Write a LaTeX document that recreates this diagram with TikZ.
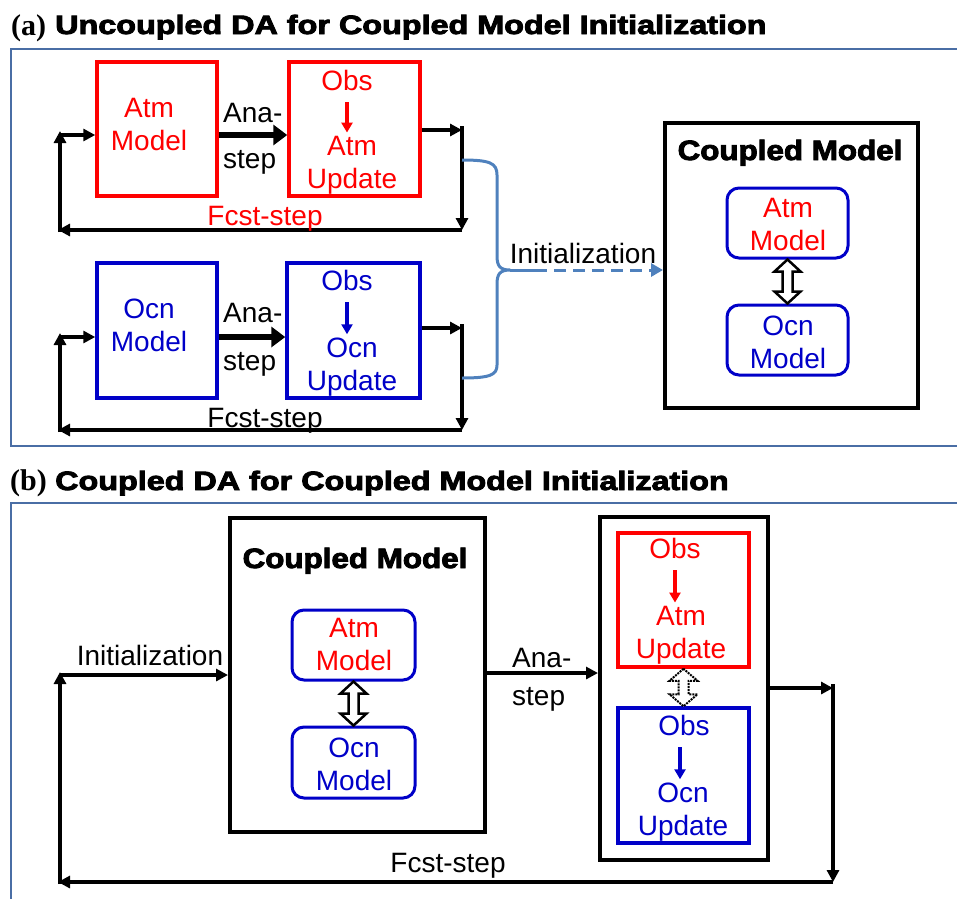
\documentclass[tikz,border=0pt]{standalone}
\usepackage{fontspec}
\usepackage{graphicx}
\setmainfont{Liberation Sans}
\newfontfamily\heavy[FakeBold=3]{Liberation Sans Bold}
\newfontfamily\serifb{Liberation Serif Bold}
\usetikzlibrary{arrows.meta,calc}
\definecolor{cred}{RGB}{255,0,0}
\definecolor{cblue}{RGB}{0,0,200}
\definecolor{framec}{RGB}{74,110,165}
\definecolor{bracec}{RGB}{79,129,189}
\newcommand{\hollowdbl}[4]{% #1 start anchor, #2 end anchor, #3 half head width, #4 style
  \draw[#4] let \p1=(#1), \p2=(#2) in
    (\x1,\y1) -- (\x1-#3,\y1-12pt) -- (\x1-5pt,\y1-12pt) -- (\x1-5pt,\y2+12pt) -- (\x1-#3,\y2+12pt)
    -- (\x1,\y2) -- (\x1+#3,\y2+12pt) -- (\x1+5pt,\y2+12pt) -- (\x1+5pt,\y1-12pt) -- (\x1+#3,\y1-12pt) -- cycle;}
\begin{document}
\begin{tikzpicture}[x=1pt,y=-1pt,
  txt/.style={font=\fontsize{28}{33}\selectfont, inner sep=0pt, anchor=base, align=center},
  redbox/.style={draw=cred, line width=3.5pt},
  bluebox/.style={draw=cblue, line width=3.5pt},
  blkbox/.style={draw=black, line width=4pt},
  rbox/.style={draw=cblue, line width=3pt, rounded corners=12pt, minimum width=121pt, minimum height=70pt},
  arr/.style={line width=3.5pt, -{Triangle[length=12pt,width=12pt]}},
  thickarr/.style={line width=6pt, -{Triangle[length=14pt,width=20pt]}},
  redarr/.style={draw=cred, line width=3.5pt, -{Triangle[length=10pt,width=11pt]}},
  bluearr/.style={draw=cblue, line width=3.5pt, -{Triangle[length=10pt,width=11pt]}},
  heading/.style={inner sep=0pt, anchor=base west},
]
\useasboundingbox (0,0) rectangle (957,898);

%================ (a) =================
\node[heading] (la) at (11,35) {\serifb\fontsize{30}{36}\selectfont (a)};
\node[heading] (ta) at (55,34) {\heavy\fontsize{26.5}{30}\selectfont\scalebox{1.22}[1]{Uncoupled DA for Coupled Model Initialization}};
\draw[framec, line width=2.5pt] (965,49) -- (11,49) -- (11,446) -- (965,446);

% Atm row
\node[redbox, minimum width=120pt, minimum height=134pt] (am) at (157,129) {};
\node[txt, text=cred] (amt) at (149,150) {Atm\\Model};
\node[redbox, minimum width=131pt, minimum height=134pt] (au) at (354.5,129) {};
\node[txt, text=cred] (obs1) at (347,90) {Obs};
\node[txt, text=cred] (aut) at (352,188) {Atm\\Update};
\draw[redarr, shorten <=12pt, shorten >=3pt] (obs1.south) -- (obs1.south |- aut.north);
\node[txt, align=left, anchor=base west, font=\fontsize{28}{46}\selectfont] (ana1) at (223,168) {Ana-\\step};
\draw[thickarr] (am.east |- 0,135) -- (au.west |- 0,135);
\coordinate (r1) at (462,130);
\coordinate (r1t) at (462,126);
\coordinate (r1b) at (462,230);
\coordinate (l1b) at (60,230);
\coordinate (l1t) at (60,131);
\coordinate (l1) at (60,135);
\draw[arr] (au.east |- r1) -- (r1);
\draw[arr] (r1t) -- (r1b);
\draw[arr] (r1b) -- ([xshift=-2pt]l1b);
\draw[arr] ([yshift=-2pt]l1b) -- (l1t);
\draw[arr] (l1) -- (am.west |- l1);
\node[txt, text=cred] (f1) at (265,225) {Fcst-step};

% Ocn row
\node[bluebox, minimum width=120pt, minimum height=135pt] (om) at (157,330.5) {};
\node[txt, text=cblue] (omt) at (149,351) {Ocn\\Model};
\node[bluebox, minimum width=133pt, minimum height=135pt] (ou) at (353.5,330.5) {};
\node[txt, text=cblue] (obs2) at (347,290) {Obs};
\node[txt, text=cblue] (out) at (352,390) {Ocn\\Update};
\draw[bluearr, shorten <=12pt, shorten >=3pt] (obs2.south) -- (obs2.south |- out.north);
\node[txt, align=left, anchor=base west, font=\fontsize{28}{48}\selectfont] (ana2) at (223,370) {Ana-\\step};
\draw[thickarr] (om.east |- 0,337) -- (ou.west |- 0,337);
\coordinate (r2) at (462,328);
\coordinate (r2t) at (462,324);
\coordinate (r2b) at (462,430);
\coordinate (l2b) at (60,430);
\coordinate (l2t) at (60,333);
\coordinate (l2) at (60,337);
\draw[arr] (ou.east |- r2) -- (r2);
\draw[arr] (r2t) -- (r2b);
\draw[arr] (r2b) -- ([xshift=-2pt]l2b);
\draw[arr] ([yshift=-2pt]l2b) -- (l2t);
\draw[arr] (l2) -- (om.west |- l2);
\node[txt] (f2) at (265,427) {Fcst-step};

% brace and initialization
\coordinate (bt) at (510,270);
\coordinate (bu) at (462,160);
\coordinate (bd) at (462,378);
\draw[bracec, line width=3pt, line join=round]
  (bu) .. controls (490,160) and (497,163) .. (497,175) -- (497,256)
  .. controls (497,266) and (500,270) .. (bt)
  .. controls (500,270) and (497,274) .. (497,284) -- (497,365)
  .. controls (497,375) and (490,378) .. (bd);
\node[blkbox, minimum width=253pt, minimum height=285pt] (cm1) at (791.5,265.5) {};
\draw[bracec, line width=3pt] (bt) -- (535,270);
\draw[bracec, line width=3pt, dash pattern=on 12pt off 7pt, -{Triangle[length=12pt,width=13pt]}] (535,270) -- (cm1.west |- bt);
\node[txt] (init1) at (583,263) {Initialization};
\node[inner sep=0pt, anchor=base] (cmt1) at (790,160) {\heavy\fontsize{28}{32}\selectfont\scalebox{1.12}[1]{Coupled Model}};
\node[rbox] (cam1) at (787.5,223) {};
\node[txt, text=cred] (cam1t) at (788,250) {Atm\\Model};
\node[rbox] (com1) at (787.5,340) {};
\node[txt, text=cblue] (com1t) at (788,368) {Ocn\\Model};
\hollowdbl{cam1.south}{com1.north}{13pt}{line width=2.5pt, fill=white}

%================ (b) =================
\node[heading] (lb) at (10,490) {\serifb\fontsize{30}{36}\selectfont (b)};
\node[heading] (tb) at (55,490) {\heavy\fontsize{26.5}{30}\selectfont\scalebox{1.22}[1]{Coupled DA for Coupled Model Initialization}};
\draw[framec, line width=2.5pt] (965,503) -- (11,503) -- (11,905);

\node[blkbox, minimum width=255pt, minimum height=314pt] (cm2) at (357.5,675) {};
\node[inner sep=0pt, anchor=base] (cmt2) at (355,568) {\heavy\fontsize{28}{32}\selectfont\scalebox{1.12}[1]{Coupled Model}};
\node[rbox, minimum width=123pt] (cam2) at (353.5,645) {};
\node[txt, text=cred] (cam2t) at (354,670) {Atm\\Model};
\node[rbox, minimum width=123pt, minimum height=71pt] (com2) at (353.5,762.5) {};
\node[txt, text=cblue] (com2t) at (354,790) {Ocn\\Model};
\hollowdbl{cam2.south}{com2.north}{13pt}{line width=2.5pt, fill=white}

\node[blkbox, minimum width=168pt, minimum height=343pt] (ob) at (684,688.5) {};
\node[redbox, minimum width=131pt, minimum height=134pt] (rb) at (683.5,600) {};
\node[txt, text=cred] (obs3) at (675,558) {Obs};
\node[txt, text=cred] (rbt) at (681,658) {Atm\\Update};
\draw[redarr, shorten <=12pt, shorten >=3pt] (obs3.south) -- (obs3.south |- rbt.north);
\node[bluebox, minimum width=131pt, minimum height=135pt] (bb) at (683.5,775.5) {};
\node[txt, text=cblue] (obs4) at (684,735) {Obs};
\node[txt, text=cblue] (bbt) at (683,835) {Ocn\\Update};
\draw[bluearr, shorten <=12pt, shorten >=3pt] ([xshift=-4pt]obs4.south) -- ([xshift=-4pt]obs4.south |- bbt.north);
\hollowdbl{rb.south}{bb.north}{14pt}{line width=2pt, fill=white, densely dotted}

\coordinate (ana3) at (485,673);
\draw[arr] (cm2.east |- ana3) -- (ob.west |- ana3);
\node[txt, align=left, anchor=base west, font=\fontsize{28}{38}\selectfont] (ana3t) at (512,705) {Ana-\\step};

\coordinate (r3) at (833,688);
\coordinate (r3t) at (833,684);
\coordinate (r3b) at (833,882);
\coordinate (l3b) at (60,882);
\coordinate (l3t) at (60,672);
\coordinate (l3) at (60,675);
\draw[arr] (ob.east |- r3) -- (r3);
\draw[arr] (r3t) -- (r3b);
\draw[arr] (r3b) -- ([xshift=-2pt]l3b);
\draw[arr] ([yshift=-2pt]l3b) -- (l3t);
\draw[arr] (l3) -- (cm2.west |- l3);
\node[txt] (init2) at (150,665) {Initialization};
\node[txt] (f3) at (448,872) {Fcst-step};
\end{tikzpicture}
\end{document}
